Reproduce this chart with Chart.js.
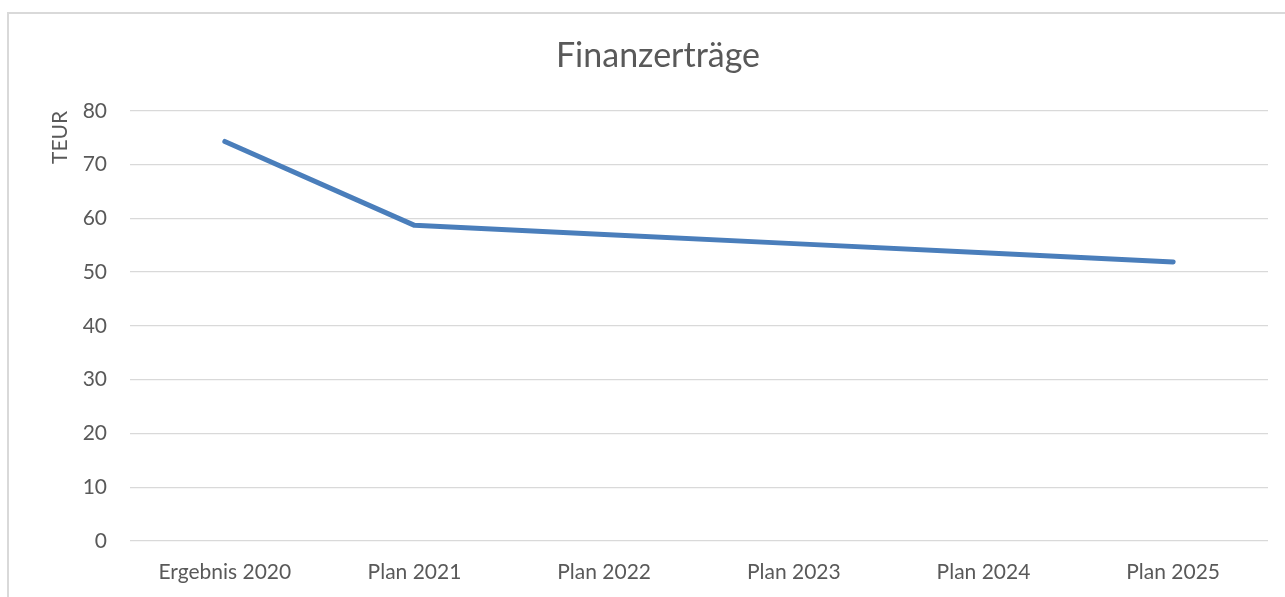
<!DOCTYPE html>
<html>
<head>
<meta charset="utf-8">
<script src="https://cdn.jsdelivr.net/npm/chart.js@4/dist/chart.umd.min.js"></script>
<style>
  html, body { margin: 0; padding: 0; background: #fff; overflow: hidden; }
  #frame { position: absolute; left: 7px; top: 12px; width: 1300px; height: 620px; border: 2px solid #d9d9d9; box-sizing: border-box; }
  #wrap { position: absolute; left: 0; top: 0; width: 1285px; height: 597px; }
</style>
</head>
<body>
<div id="frame"></div>
<div id="wrap"><canvas id="myChart"></canvas></div>
<script>
// Finanzerträge in TEUR
const categories = ['Ergebnis 2020', 'Plan 2021', 'Plan 2022', 'Plan 2023', 'Plan 2024', 'Plan 2025'];
const values = [74.3, 58.7, 57.0, 55.3, 53.6, 51.9];
const yTicks = [0, 10, 20, 30, 40, 50, 60, 70, 80];

const textColor = '#595959';
const gridColor = '#d9d9d9';

const ctx = document.getElementById('myChart').getContext('2d');
const myChart = new Chart(ctx, {
    type: 'line',
    data: {
        labels: categories,
        datasets: [{
            label: 'Finanzerträge',
            data: values,
            borderColor: '#4a7ebb',
            borderWidth: 5,
            borderCapStyle: 'round',
            borderJoinStyle: 'round',
            pointRadius: 0,
            tension: 0,
            fill: false
        }]
    },
    options: {
        responsive: true,
        maintainAspectRatio: false,
        animation: false,
        layout: { padding: { left: 48, right: 17, top: 0, bottom: 12 } },
        plugins: {
            legend: { display: false },
            tooltip: { enabled: false },
            title: {
                display: true,
                text: 'Finanzerträge',
                color: textColor,
                font: { family: 'Lato', size: 34, weight: 'normal' },
                padding: { top: 36, bottom: 34 }
            }
        },
        scales: {
            x: {
                offset: true,
                grid: { display: false, drawTicks: false },
                border: { display: false },
                ticks: {
                    color: textColor,
                    font: { family: 'Lato', size: 21 },
                    padding: 19,
                    maxRotation: 0,
                    autoSkip: false
                },
                afterFit: (scale) => { scale.height = 44; }
            },
            y: {
                min: 0,
                max: 80,
                afterBuildTicks: (axis) => { axis.ticks = yTicks.map(v => ({ value: v })); },
                grid: { color: gridColor, lineWidth: 1.3, drawTicks: false },
                border: { display: false },
                ticks: {
                    color: textColor,
                    font: { family: 'Lato', size: 21 },
                    padding: 23
                },
                title: {
                    display: true,
                    text: 'TEUR',
                    align: 'end',
                    color: textColor,
                    font: { family: 'Lato', size: 21 },
                    padding: { top: 0, bottom: 10 }
                },
                afterFit: (scale) => { scale.width = 82; }
            }
        }
    }
});
</script>
</body>
</html>
